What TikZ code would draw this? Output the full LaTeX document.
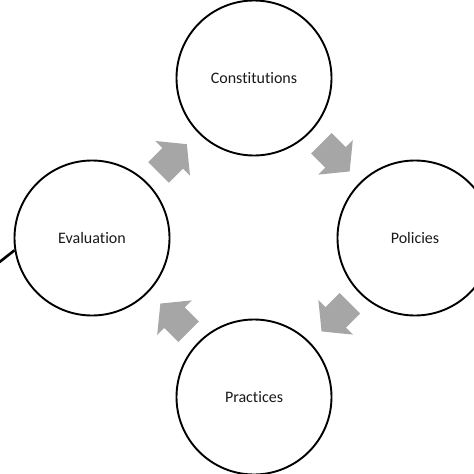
\documentclass[tikz,border=0pt]{standalone}
\usepackage{fontspec}
\setmainfont{Carlito}[Ligatures=NoCommon]
\begin{document}
\begin{tikzpicture}[x=1pt,y=-1pt,
  stage/.style={circle, draw=black, line width=1.9pt, fill=white, minimum size=155pt, inner sep=0pt,
    font=\fontsize{16}{19}\selectfont, text=black!90},
  blockarrow/.style={fill=black!35, draw=none}]
\useasboundingbox (0,0) rectangle (474,474);
\node[stage] (con) at (254,78) {Constitutions};
\node[stage] (pol) at (415,238) {Policies};
\node[stage] (pra) at (254,397) {Practices};
\node[stage] (eva) at (92,238) {Evaluation};
\coordinate (lend) at (-3,264);
\draw[line width=2.6pt] (lend) -- (eva.189);
\foreach \cx/\cy/\ang in {172.7/158.3/45, 335.5/157.3/-45, 335.7/317.3/-135, 174.5/317.7/135}{
  \fill[blockarrow, shift={(\cx,\cy)}, rotate=\ang]
    (-20,-14.5) -- (0,-14.5) -- (0,-24.5) -- (20,0) -- (0,24.5) -- (0,14.5) -- (-20,14.5) -- cycle;
}
\end{tikzpicture}
\end{document}
